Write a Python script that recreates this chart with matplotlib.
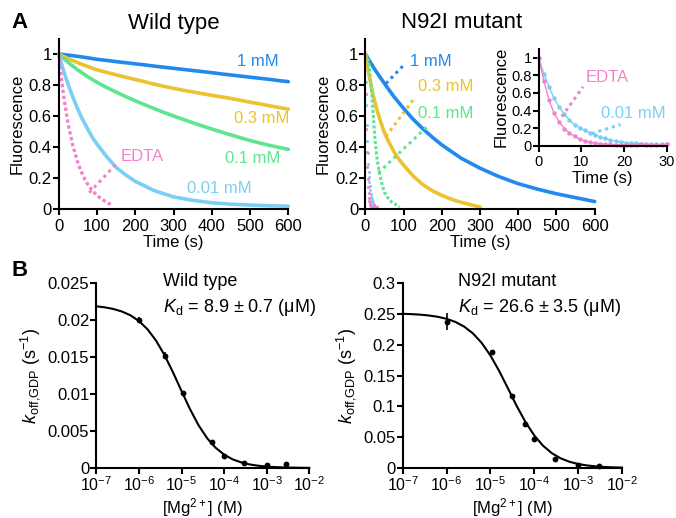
import matplotlib
matplotlib.use('Agg')
import matplotlib.pyplot as plt
from matplotlib.ticker import NullLocator, LogLocator

plt.rcParams['font.family'] = ['Liberation Sans', 'DejaVu Sans']
plt.rcParams['mathtext.fontset'] = 'custom'
plt.rcParams['mathtext.rm'] = 'Liberation Sans'
plt.rcParams['mathtext.it'] = 'Liberation Sans:italic'
plt.rcParams['mathtext.bf'] = 'Liberation Sans:bold'

# ---------------- data ----------------
# Panel A, wild type (time in s, normalized fluorescence)
wt_time = [0, 25, 50, 75, 100, 125, 150, 175, 200, 225, 250, 275, 300, 325, 350, 375, 400, 425,
           450, 475, 500, 525, 550, 575, 600]
wt_1mM = [1.0, 0.993, 0.985, 0.976, 0.966, 0.959, 0.951, 0.944, 0.937, 0.93, 0.922, 0.915, 0.908,
          0.901, 0.894, 0.887, 0.88, 0.872, 0.865, 0.858, 0.851, 0.844, 0.837, 0.829, 0.822]
wt_03mM = [1.0, 0.97, 0.944, 0.92, 0.898, 0.882, 0.866, 0.851, 0.836, 0.821, 0.806, 0.792, 0.779,
           0.767, 0.756, 0.745, 0.734, 0.724, 0.714, 0.702, 0.69, 0.679, 0.667, 0.656, 0.645]
wt_01mM = [1.0, 0.945, 0.897, 0.855, 0.818, 0.785, 0.755, 0.726, 0.699, 0.673, 0.648, 0.624, 0.601,
           0.579, 0.558, 0.537, 0.517, 0.498, 0.479, 0.461, 0.443, 0.427, 0.412, 0.399, 0.386]
wt_001_time = [0, 10, 20, 30, 40, 50, 60, 75, 90, 100, 125, 150, 175, 200, 250, 300, 350, 400, 450, 500, 550, 600]
wt_001mM = [1.0, 0.915, 0.838, 0.768, 0.703, 0.645, 0.59, 0.52, 0.455, 0.42, 0.34, 0.27, 0.222, 0.18, 0.12,
            0.08, 0.058, 0.042, 0.033, 0.027, 0.023, 0.02]
wt_edta_time = [0, 4, 8, 12, 16, 20, 24, 28, 32, 36, 40, 44, 48, 52, 56, 60, 64, 68, 72, 76, 80, 84, 88,
                92, 96, 100, 104, 108, 112, 116, 120, 124, 128, 132, 136, 140]
wt_edta = [1.0, 0.91, 0.825, 0.75, 0.68, 0.62, 0.56, 0.51, 0.465, 0.42, 0.385, 0.35, 0.315, 0.287, 0.26,
           0.237, 0.215, 0.195, 0.178, 0.161, 0.147, 0.133, 0.121, 0.11, 0.10, 0.09, 0.082, 0.074, 0.067,
           0.06, 0.054, 0.048, 0.042, 0.036, 0.03, 0.024]

# Panel A, N92I mutant
mut_1_time = [0, 25, 50, 75, 100, 125, 150, 175, 200, 250, 300, 350, 400, 450, 500, 550, 600]
mut_1mM = [1.0, 0.90, 0.81, 0.725, 0.65, 0.58, 0.52, 0.465, 0.415, 0.33, 0.265, 0.21, 0.165, 0.13, 0.10, 0.075, 0.05]
mut_03_time = [0, 10, 20, 30, 40, 50, 60, 75, 90, 100, 125, 150, 175, 200, 225, 250, 275, 300]
mut_03mM = [1.0, 0.86, 0.74, 0.645, 0.565, 0.495, 0.44, 0.37, 0.315, 0.285, 0.215, 0.16, 0.12, 0.09, 0.065,
            0.045, 0.03, 0.015]
mut_01_time = [0, 5, 10, 15, 20, 25, 30, 35, 40, 45, 50, 60, 70, 80, 90]
mut_01mM = [1.0, 0.99, 0.93, 0.80, 0.64, 0.46, 0.34, 0.26, 0.20, 0.15, 0.11, 0.07, 0.045, 0.03, 0.015]
mut_fast_time = [0, 1.2, 2.4, 3.6, 4.8, 6.0, 7.2, 8.4, 9.6, 10.8, 12.0, 13.2, 14.4, 15.6, 16.8, 18.0,
                 19.2, 20.4, 21.6, 22.8, 24.0, 25.2, 26.4, 27.6, 28.8, 30.0]
mut_001mM = [1.0, 0.82, 0.67, 0.54, 0.44, 0.36, 0.29, 0.24, 0.205, 0.175, 0.15, 0.125, 0.10, 0.082, 0.066,
             0.054, 0.044, 0.036, 0.03, 0.026, 0.023, 0.02, 0.018, 0.017, 0.016, 0.015]
mut_edta = [1.0, 0.74, 0.52, 0.37, 0.27, 0.195, 0.145, 0.105, 0.075, 0.055, 0.04, 0.03, 0.022, 0.018, 0.014,
            0.012, 0.01, 0.012, 0.009, 0.011, 0.025, 0.012, 0.01, 0.008, 0.01, 0.015]

# Panel B, dissociation rate vs [Mg2+]
mg_wt = [1e-6, 4e-6, 1.07e-5, 5.1e-5, 1e-4, 2.9e-4, 1e-3, 2.9e-3]
koff_wt = [0.0200, 0.0152, 0.0102, 0.00346, 0.00157, 0.00067, 0.00045, 0.0006]
koff_wt_err = [0.0004, 0.0005, 0, 0, 0, 0, 0, 0]
mg_mut = [1e-6, 1.1e-5, 3.1e-5, 6.2e-5, 1e-4, 3e-4, 1e-3, 3e-3]
koff_mut = [0.237, 0.1885, 0.1174, 0.071, 0.0474, 0.0151, 0.0054, 0.0027]
koff_mut_err = [0.014, 0, 0, 0, 0, 0, 0, 0]

fit_mg = [1e-7, 1.585e-7, 2.512e-7, 3.981e-7, 6.31e-7, 1e-6, 1.585e-6, 2.512e-6, 3.981e-6, 6.31e-6,
          1e-5, 1.585e-5, 2.512e-5, 3.981e-5, 6.31e-5, 1e-4, 1.585e-4, 2.512e-4, 3.981e-4, 6.31e-4,
          1e-3, 1.585e-3, 2.512e-3, 3.981e-3, 6.31e-3, 1e-2]
fit_wt = [0.02185, 0.02171, 0.02149, 0.02115, 0.02064, 0.01987, 0.01876, 0.01724, 0.01527, 0.01294,
          0.01041, 0.00795, 0.00578, 0.00404, 0.00274, 0.00181, 0.00117, 0.00076, 0.00048, 0.00031,
          0.00019, 0.00012, 0.00008, 0.00005, 0.00003, 0.00002]
fit_mut = [0.25006, 0.24951, 0.24865, 0.24730, 0.24518, 0.24191, 0.23689, 0.22934, 0.21832, 0.20288,
           0.18243, 0.15729, 0.12909, 0.10052, 0.07444, 0.05274, 0.03607, 0.02403, 0.01572, 0.01015,
           0.0065, 0.00414, 0.00263, 0.00167, 0.00105, 0.00067]

C_BLUE = '#2289EF'
C_GOLD = '#EBC22F'
C_GREEN = '#5EE592'
C_LBLUE = '#7CCFF2'
C_PINK = '#F282CB'

W, H = 676, 518
fig = plt.figure(figsize=(W / 100, H / 100), dpi=100)


def box(x0, ytop, x1, ybot):
    return [x0 / W, 1 - ybot / H, (x1 - x0) / W, (ybot - ytop) / H]


def style(ax, fs=12):
    for s in ['top', 'right']:
        ax.spines[s].set_visible(False)
    for s in ['left', 'bottom']:
        ax.spines[s].set_linewidth(1.5)
    ax.tick_params(direction='out', length=4, width=1.5, labelsize=fs)
    ax.tick_params(axis='y', pad=1)
    ax.tick_params(axis='x', pad=3)
    ax.patch.set_alpha(0)


LEADER = dict(linestyle=(0, (1, 1.3)), lw=2.2, clip_on=False)
frac_ticks = [0, 0.2, 0.4, 0.6, 0.8, 1.0]
frac_labels = ['0', '0.2', '0.4', '0.6', '0.8', '1']

# ---------- A left: wild type ----------
ax1 = fig.add_axes(box(58.7, 38.5, 288.3, 209.3))
style(ax1)
line_kw = dict(lw=2.6, solid_capstyle='round', solid_joinstyle='round', clip_on=False)
ax1.plot(wt_time, wt_1mM, color=C_BLUE, **line_kw)
ax1.plot(wt_time, wt_03mM, color=C_GOLD, **line_kw)
ax1.plot(wt_time, wt_01mM, color=C_GREEN, **line_kw)
ax1.plot(wt_001_time, wt_001mM, color=C_LBLUE, **line_kw)
ax1.plot(wt_edta_time, wt_edta, color=C_PINK, lw=2.4, linestyle=(0, (1, 0.8)), clip_on=False)
ax1.set_xlim(0, 600)
ax1.set_ylim(0, 1.1)
ax1.set_xticks([0, 100, 200, 300, 400, 500, 600])
ax1.set_yticks(frac_ticks)
ax1.set_yticklabels(frac_labels)
ax1.set_xlabel('Time (s)', fontsize=12, labelpad=1)
ax1.set_ylabel('Fluorescence', fontsize=12, labelpad=3)
ax1.text(465, 0.95, '1 mM', color=C_BLUE, fontsize=12, va='center')
ax1.text(458, 0.585, '0.3 mM', color=C_GOLD, fontsize=12, va='center')
ax1.text(435, 0.33, '0.1 mM', color=C_GREEN, fontsize=12, va='center')
ax1.text(334, 0.135, '0.01 mM', color=C_LBLUE, fontsize=12, va='center')
ax1.text(163, 0.34, 'EDTA', color=C_PINK, fontsize=12, va='center')
ax1.plot([80, 153], [0.107, 0.30], color=C_PINK, **LEADER)

# ---------- A middle: N92I ----------
ax2 = fig.add_axes(box(365.3, 38.5, 594.7, 209.3))
style(ax2)
ax2.plot(mut_1_time, mut_1mM, color=C_BLUE, **line_kw)
ax2.plot(mut_03_time, mut_03mM, color=C_GOLD, **line_kw)
ax2.plot(mut_01_time, mut_01mM, color=C_GREEN, lw=2.2, linestyle=(0, (1, 0.7)), clip_on=False)
ax2.plot(mut_fast_time, mut_001mM, 'o', color=C_LBLUE, ms=2.2, mew=0, clip_on=False)
ax2.plot(mut_fast_time, mut_edta, 'o', color=C_PINK, ms=2.2, mew=0, clip_on=False)
ax2.set_xlim(0, 600)
ax2.set_ylim(0, 1.1)
ax2.set_xticks([0, 100, 200, 300, 400, 500, 600])
ax2.set_yticks(frac_ticks)
ax2.set_yticklabels(frac_labels)
ax2.set_xlabel('Time (s)', fontsize=12, labelpad=1)
ax2.set_ylabel('Fluorescence', fontsize=12, labelpad=3)
ax2.text(117, 0.95, '1 mM', color=C_BLUE, fontsize=12, va='center')
ax2.text(139, 0.79, '0.3 mM', color=C_GOLD, fontsize=12, va='center')
ax2.text(139, 0.62, '0.1 mM', color=C_GREEN, fontsize=12, va='center')
ax2.plot([54, 101], [0.81, 0.93], color=C_BLUE, **LEADER)
ax2.plot([54, 130], [0.47, 0.72], color=C_GOLD, **LEADER)
ax2.plot([34, 165], [0.235, 0.54], color=C_GREEN, **LEADER)

# ---------- inset ----------
ax3 = fig.add_axes(box(538.7, 48.9, 666.7, 145.7))
style(ax3, fs=10.5)
ax3.plot(mut_fast_time, mut_001mM, '-o', color=C_LBLUE, lw=1.0, ms=3.2, mew=0, clip_on=False)
ax3.plot(mut_fast_time, mut_edta, '-o', color=C_PINK, lw=1.0, ms=3.2, mew=0, clip_on=False)
ax3.set_xlim(0, 30)
ax3.set_ylim(0, 1.1)
ax3.set_xticks([0, 10, 20, 30])
ax3.set_yticks(frac_ticks)
ax3.set_yticklabels(frac_labels)
ax3.set_xlabel('Time (s)', fontsize=12, labelpad=1)
ax3.set_ylabel('Fluorescence', fontsize=12, labelpad=2)
ax3.text(11.1, 0.77, 'EDTA', color=C_PINK, fontsize=12, va='center')
ax3.text(14.7, 0.37, '0.01 mM', color=C_LBLUE, fontsize=12, va='center')
ax3.plot([5.4, 10.4], [0.33, 0.67], color=C_PINK, **LEADER)
ax3.plot([12.4, 19.2], [0.14, 0.24], color=C_LBLUE, **LEADER)


# ---------- B ----------
def panel_b(ax, mg, k, kerr, fm, fk, yticks, ylabels, ymax, h):
    style(ax)
    ax.set_xscale('log')
    ax.plot(fm, fk, color='black', lw=1.5, clip_on=False)
    ax.errorbar(mg, k, yerr=kerr, fmt='o', color='black', ms=4.2, mew=0, ecolor='black',
                elinewidth=1.2, capsize=3, capthick=1.2, clip_on=False)
    ax.set_xlim(1e-7, 1e-2)
    ax.set_ylim(0, ymax)
    ax.xaxis.set_major_locator(LogLocator(base=10, numticks=10))
    ax.xaxis.set_minor_locator(NullLocator())
    ax.tick_params(axis='x', pad=1.5, labelsize=11.5)
    ax.set_yticks(yticks)
    ax.set_yticklabels(ylabels)
    ax.set_xlabel(r'[Mg$^{2+}$] (M)', fontsize=12, va='center')
    ax.xaxis.set_label_coords(0.5, -40.0 / h)
    ax.set_ylabel(r'$k_{\mathrm{off{,}GDP}}$ (s$^{-1}$)', fontsize=13, labelpad=4)


B_TOP, B_BOT = 283.0, 468.0
ax4 = fig.add_axes(box(96.3, B_TOP, 309.3, B_BOT))
panel_b(ax4, mg_wt, koff_wt, koff_wt_err, fit_mg, fit_wt,
        [0, 0.005, 0.01, 0.015, 0.02, 0.025], ['0', '0.005', '0.01', '0.015', '0.02', '0.025'], 0.025,
        B_BOT - B_TOP)
ax5 = fig.add_axes(box(402.7, B_TOP, 622, B_BOT))
panel_b(ax5, mg_mut, koff_mut, koff_mut_err, fit_mg, fit_mut,
        [0, 0.05, 0.1, 0.15, 0.2, 0.25, 0.3], ['0', '0.05', '0.1', '0.15', '0.2', '0.25', '0.3'], 0.3,
        B_BOT - B_TOP)

fig.text(163 / W, 1 - 282 / H, 'Wild type', fontsize=13, va='center', ha='left')
fig.text(163 / W, 1 - 307 / H, r'$K_\mathrm{d}$ = 8.9 ± 0.7 (μM)', fontsize=13, va='center', ha='left')
fig.text(458 / W, 1 - 282 / H, 'N92I mutant', fontsize=13, va='center', ha='left')
fig.text(458 / W, 1 - 307 / H, r'$K_\mathrm{d}$ = 26.6 ± 3.5 (μM)', fontsize=13, va='center', ha='left')

# titles & panel letters
fig.text(174 / W, 1 - 23 / H, 'Wild type', fontsize=16, ha='center', va='center')
fig.text(462 / W, 1 - 23 / H, 'N92I mutant', fontsize=16, ha='center', va='center')
fig.text(19.5 / W, 1 - 22.5 / H, 'A', fontsize=16, fontweight='bold', ha='center', va='center')
fig.text(19.5 / W, 1 - 270 / H, 'B', fontsize=16, fontweight='bold', ha='center', va='center')

fig.savefig('out.png', dpi=100)
